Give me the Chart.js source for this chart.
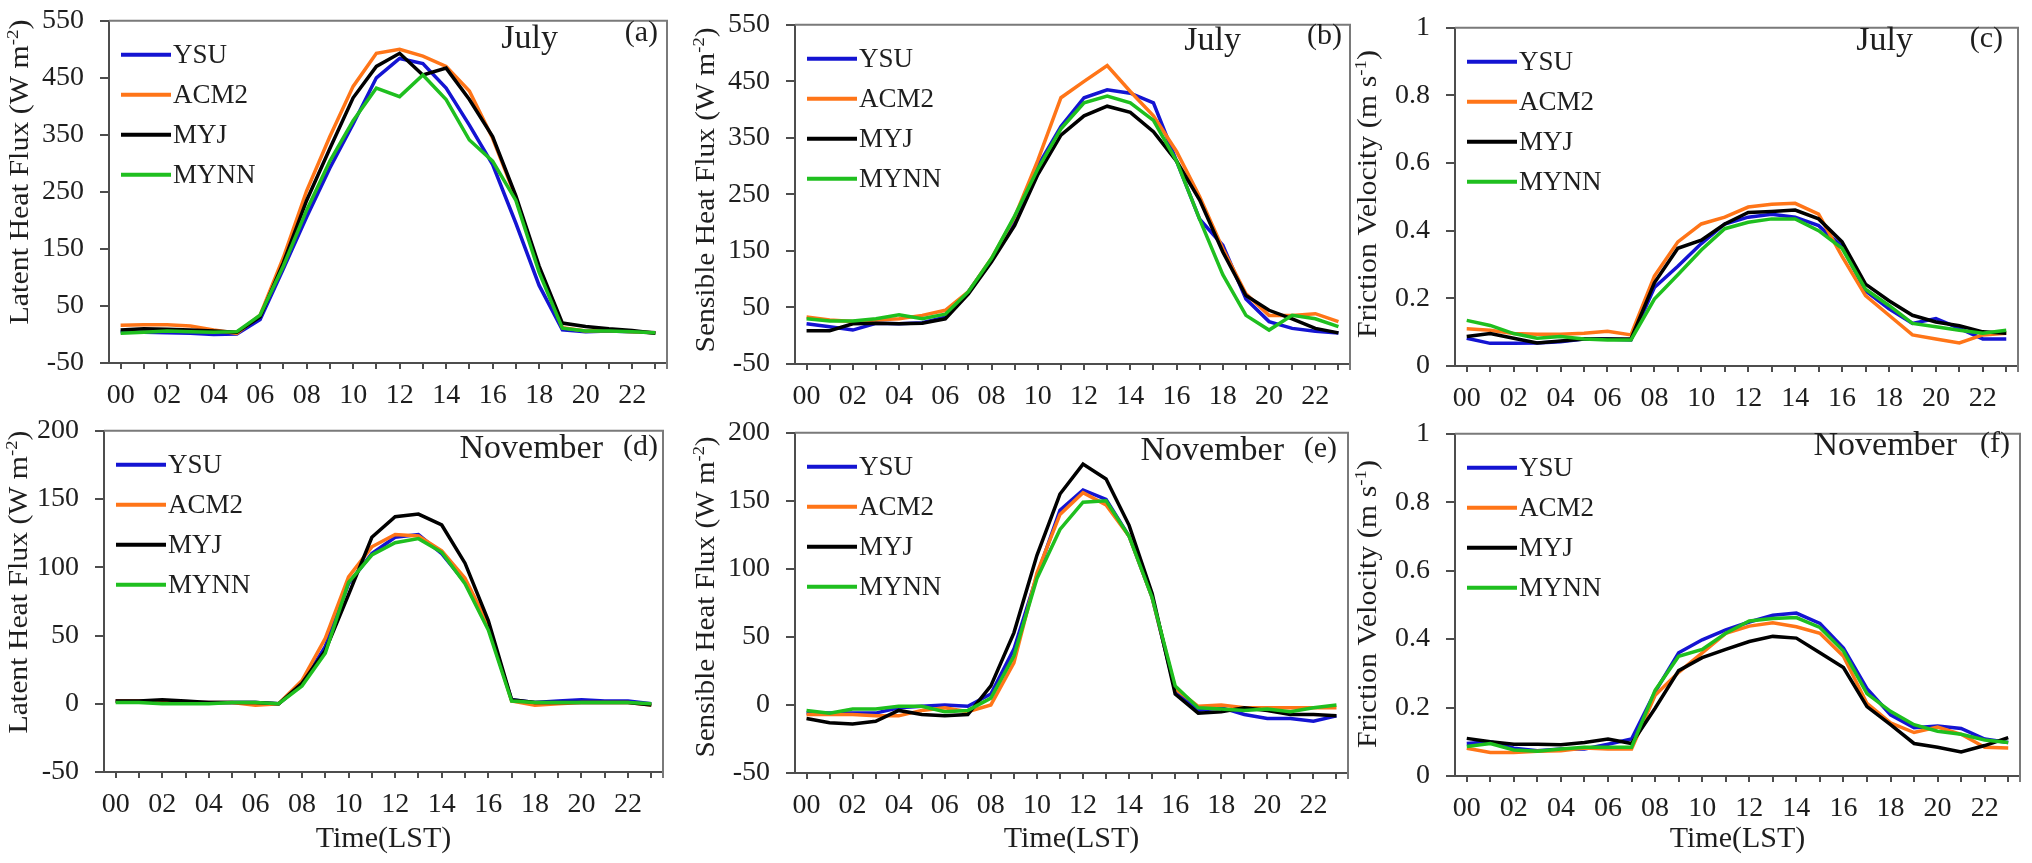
<!DOCTYPE html>
<html><head><meta charset="utf-8">
<script src="https://cdn.jsdelivr.net/npm/chart.js@4.4.1/dist/chart.umd.min.js"></script>
<style>
html,body{margin:0;padding:0;background:#fff;width:2032px;height:863px;overflow:hidden;position:relative}
canvas{position:absolute}
</style></head>
<body>
<canvas id="pa"></canvas><canvas id="pb"></canvas><canvas id="pc"></canvas>
<canvas id="pd"></canvas><canvas id="pe"></canvas><canvas id="pf"></canvas>
<script>
// ---------- DATA ----------
const hours = ['00','01','02','03','04','05','06','07','08','09','10','11','12','13','14','15','16','17','18','19','20','21','22','23'];
const schemes = ['YSU','ACM2','MYJ','MYNN'];
const months = ['July','July','July','November','November','November'];
const panelLetters = ['(a)','(b)','(c)','(d)','(e)','(f)'];

// (a) Latent heat flux, July (W m-2)
const lhJulYSU  = [5,4,3,2,0,1,26,115,206,292,369,450,484,475,432,367,298,195,86,8,5,6,5,3];
const lhJulACM2 = [16,17,17,15,8,2,34,135,252,347,435,493,500,488,470,427,344,240,114,12,6,7,5,3];
const lhJulMYJ  = [8,10,9,8,6,4,31,126,235,326,415,470,493,455,467,412,347,243,120,20,14,10,7,2];
const lhJulMYNN = [2,4,6,5,4,5,34,120,218,304,375,432,417,455,412,341,304,235,109,11,6,6,5,3];
// (b) Sensible heat flux, July (W m-2)
const shJulYSU  = [21,16,10,22,21,23,33,78,135,205,300,370,421,435,429,412,309,206,160,65,25,13,8,5];
const shJulACM2 = [33,28,25,28,30,36,45,78,137,210,310,421,450,478,432,389,326,246,154,74,36,36,39,25];
const shJulMYJ  = [9,9,21,22,21,22,30,74,131,195,285,355,389,406,395,361,309,240,148,71,45,30,13,5];
const shJulMYNN = [30,26,26,30,37,30,38,78,137,212,295,366,412,424,412,381,309,206,108,36,10,36,30,16];
// (c) Friction velocity, July (m s-1)
const fvJulYSU  = [0.082,0.067,0.067,0.068,0.072,0.08,0.08,0.077,0.232,0.295,0.362,0.42,0.44,0.449,0.44,0.415,0.353,0.222,0.169,0.126,0.14,0.111,0.08,0.08];
const fvJulACM2 = [0.11,0.106,0.096,0.094,0.094,0.097,0.103,0.092,0.266,0.367,0.42,0.44,0.47,0.478,0.481,0.449,0.324,0.208,0.15,0.092,0.08,0.068,0.092,0.097];
const fvJulMYJ  = [0.087,0.096,0.082,0.068,0.074,0.08,0.08,0.08,0.246,0.348,0.372,0.42,0.454,0.457,0.461,0.435,0.367,0.242,0.193,0.15,0.13,0.119,0.101,0.097];
const fvJulMYNN = [0.135,0.12,0.096,0.082,0.087,0.08,0.077,0.077,0.198,0.27,0.343,0.406,0.425,0.435,0.435,0.4,0.348,0.227,0.179,0.126,0.116,0.106,0.097,0.106];
// (d) Latent heat flux, November (W m-2)
const lhNovYSU  = [2,2,1,1,1,1,1,0,14,42,88,110,122,124,110,89,56,3,1,2,3,2,2,0];
const lhNovACM2 = [2,2,1,1,1,1,-1,0,17,48,93,115,124,123,112,92,58,2,-1,0,1,1,1,-1];
const lhNovMYJ  = [2,2,3,2,1,1,1,0,15,39,80,122,137,139,131,103,61,3,1,1,1,1,1,-1];
const lhNovMYNN = [1,1,0,0,0,1,1,0,13,37,89,109,118,121,111,88,54,2,1,1,1,1,1,0];
// (e) Sensible heat flux, November (W m-2)
const shNovYSU  = [-6,-6,-6,-6,-2,-1,0,-1,8,41,95,143,158,151,124,79,11,-4,-2,-7,-10,-10,-12,-8];
const shNovACM2 = [-7,-7,-7,-8,-8,-4,-2,-5,0,31,97,140,156,147,124,79,12,-1,0,-2,-2,-2,-2,-2];
const shNovMYJ  = [-10,-13,-14,-12,-4,-7,-8,-7,14,53,110,155,177,166,132,82,8,-6,-5,-2,-4,-7,-7,-8];
const shNovMYNN = [-4,-6,-3,-3,-1,-1,-5,-4,5,36,93,129,149,150,124,79,14,-2,-3,-4,-3,-5,-2,0];
// (f) Friction velocity, November (m s-1)
const fvNovYSU  = [0.095,0.1,0.081,0.074,0.079,0.079,0.093,0.108,0.246,0.36,0.398,0.427,0.45,0.47,0.476,0.446,0.374,0.255,0.179,0.141,0.146,0.139,0.108,0.098];
const fvNovACM2 = [0.081,0.069,0.069,0.072,0.074,0.082,0.079,0.079,0.236,0.303,0.36,0.417,0.438,0.448,0.436,0.417,0.35,0.212,0.155,0.127,0.143,0.122,0.084,0.082];
const fvNovMYJ  = [0.11,0.1,0.093,0.093,0.091,0.098,0.108,0.095,0.198,0.308,0.346,0.37,0.393,0.408,0.403,0.36,0.317,0.203,0.15,0.095,0.084,0.07,0.089,0.112];
const fvNovMYNN = [0.086,0.095,0.076,0.072,0.079,0.084,0.084,0.084,0.25,0.35,0.37,0.417,0.453,0.46,0.463,0.434,0.365,0.241,0.189,0.15,0.131,0.122,0.105,0.098];

// axis ranges / titles
const yRanges = [[-50,550,100],[-50,550,100],[0,1,0.2],[-50,200,50],[-50,200,50],[0,1,0.2]];
const yTitles = [
  ['Latent Heat Flux (W m','-2',')'],
  ['Sensible Heat Flux (W m','-2',')'],
  ['Friction Velocity (m s','-1',')'],
  ['Latent Heat Flux (W m','-2',')'],
  ['Sensible Heat Flux (W m','-2',')'],
  ['Friction Velocity (m s','-1',')']
];
const xTitle = 'Time(LST)';

// ---------- LAYOUT / STYLE ----------
const colors = ['#1414d2','#ff7518','#000000','#1fbf1f'];
const FONT = '"Liberation Serif", "Times New Roman", serif';
// plot rectangles (page px): L,T,R,B ; canvas rect: left, top, width, height
const layout = [
  {id:'pa', plot:[109,13,667,363],  canvas:[0,-12,680,432],    yt:[22,172,305],   mon:[558,48], let:[658,41]},
  {id:'pb', plot:[795,17,1350,364], canvas:[685,-8,680,428],   yt:[708,190,325],  mon:[1241,50], let:[1342,44]},
  {id:'pc', plot:[1455,20,2018,366],canvas:[1350,-5,682,425],  yt:[1370,194,288], mon:[1913,50], let:[2003,47]},
  {id:'pd', plot:[104,423,663,772], canvas:[0,398,680,465],    yt:[21,582,303],   mon:[603,458], let:[658,455]},
  {id:'pe', plot:[795,425,1348,773],canvas:[685,400,680,463],  yt:[708,597,321],  mon:[1284,460], let:[1337,457]},
  {id:'pf', plot:[1455,426,2020,776],canvas:[1350,401,682,462],yt:[1370,604,288], mon:[1957,455], let:[2010,452]}
];
const panelData = [
  [lhJulYSU,lhJulACM2,lhJulMYJ,lhJulMYNN],
  [shJulYSU,shJulACM2,shJulMYJ,shJulMYNN],
  [fvJulYSU,fvJulACM2,fvJulMYJ,fvJulMYNN],
  [lhNovYSU,lhNovACM2,lhNovMYJ,lhNovMYNN],
  [shNovYSU,shNovACM2,shNovMYJ,shNovMYNN],
  [fvNovYSU,fvNovACM2,fvNovMYJ,fvNovMYNN]
];

function makeDecor(i){
  const L = layout[i];
  const cx0 = L.canvas[0], cy0 = L.canvas[1];
  return {
    id:'decor'+i,
    afterDraw(chart){
      const ctx = chart.ctx, a = chart.chartArea;
      ctx.save();
      // frame (top + right)
      ctx.strokeStyle = '#7a7a7a'; ctx.lineWidth = 2;
      ctx.beginPath(); ctx.moveTo(a.left, a.top); ctx.lineTo(a.right, a.top); ctx.lineTo(a.right, a.bottom+6); ctx.stroke();
      // legend
      ctx.font = '27px ' + FONT; ctx.textBaseline = 'middle'; ctx.textAlign = 'left';
      chart.data.datasets.forEach((ds, k) => {
        const y = a.top + 34 + k*40, x = a.left + 12;
        ctx.strokeStyle = ds.borderColor; ctx.lineWidth = 4;
        ctx.beginPath(); ctx.moveTo(x, y); ctx.lineTo(x+50, y); ctx.stroke();
        ctx.fillStyle = '#1e1e1e'; ctx.fillText(ds.label, x+52, y+1);
      });
      // month + panel letter
      ctx.textBaseline = 'alphabetic'; ctx.textAlign = 'right'; ctx.fillStyle = '#1e1e1e';
      ctx.font = '34px ' + FONT;
      ctx.fillText(months[i], L.mon[0]-cx0, L.mon[1]-cy0);
      ctx.font = '30px ' + FONT;
      ctx.fillText(panelLetters[i], L.let[0]-cx0, L.let[1]-cy0);
      // y title with superscript
      const parts = yTitles[i], f = 27, fs = 17;
      const big = f+'px '+FONT, small = fs+'px '+FONT;
      ctx.font = big; const w0 = ctx.measureText(parts[0]).width, w2 = ctx.measureText(parts[2]).width;
      ctx.font = small; const w1 = ctx.measureText(parts[1]).width;
      const tot = w0+w1+w2;
      ctx.translate(L.yt[0]-cx0, L.yt[1]-cy0); ctx.rotate(-Math.PI/2); ctx.scale(L.yt[2]/tot, 1);
      ctx.textAlign = 'left';
      let x = -tot/2; const base = f*0.24;
      ctx.font = big; ctx.fillText(parts[0], x, base); x += w0;
      ctx.font = small; ctx.fillText(parts[1], x, base - f*0.4); x += w1;
      ctx.font = big; ctx.fillText(parts[2], x, base);
      ctx.restore();
    }
  };
}

layout.forEach((L, i) => {
  const cv = document.getElementById(L.id);
  const [cl, ct, cw, ch] = L.canvas;
  cv.width = cw; cv.height = ch;
  cv.style.left = cl+'px'; cv.style.top = ct+'px'; cv.style.width = cw+'px'; cv.style.height = ch+'px';
  const [pl, pt, pr, pb] = L.plot;
  const yW = pl - cl, padTop = pt - ct, padRight = cl + cw - pr, xH = ct + ch - pb;
  const [ymin, ymax, ystep] = yRanges[i];
  const isFrac = ystep < 1;
  const datasets = panelData[i].map((d, k) => ({
    label: schemes[k], data: d, borderColor: colors[k], backgroundColor: colors[k],
    borderWidth: 3.5, pointRadius: 0, fill: false, tension: 0, order: 4-k
  }));
  new Chart(cv, {
    type: 'line',
    data: { labels: hours, datasets },
    options: {
      responsive: false, animation: false, devicePixelRatio: 1,
      layout: { padding: { left: 0, top: padTop, right: padRight, bottom: 0 } },
      plugins: { legend: { display: false }, tooltip: { enabled: false } },
      scales: {
        x: {
          type: 'category', offset: true,
          grid: { drawOnChartArea: false, drawTicks: true, tickLength: 6, color: '#4d4d4d', lineWidth: 2 },
          border: { display: true, color: '#4d4d4d', width: 2 },
          ticks: { autoSkip: false, maxRotation: 0, minRotation: 0, padding: 10, color: '#1e1e1e',
                   font: { size: 28, family: FONT },
                   callback: (v, idx) => idx % 2 === 0 ? hours[idx] : '' },
          title: { display: i >= 3, text: xTitle, color: '#1e1e1e', font: { size: 30, family: FONT },
                   padding: { top: 0, bottom: 6 } },
          afterFit: s => { s.height = xH; }
        },
        y: {
          min: ymin, max: ymax,
          grid: { drawOnChartArea: false, drawTicks: true, tickLength: 9, color: '#4d4d4d', lineWidth: 2 },
          border: { display: true, color: '#4d4d4d', width: 2 },
          ticks: { stepSize: ystep, padding: 16, color: '#1e1e1e', font: { size: 28, family: FONT },
                   callback: v => isFrac ? String(+v.toFixed(1)) : String(v) },
          afterFit: s => { s.width = yW; }
        }
      }
    },
    plugins: [makeDecor(i)]
  });
});
</script>
</body></html>
